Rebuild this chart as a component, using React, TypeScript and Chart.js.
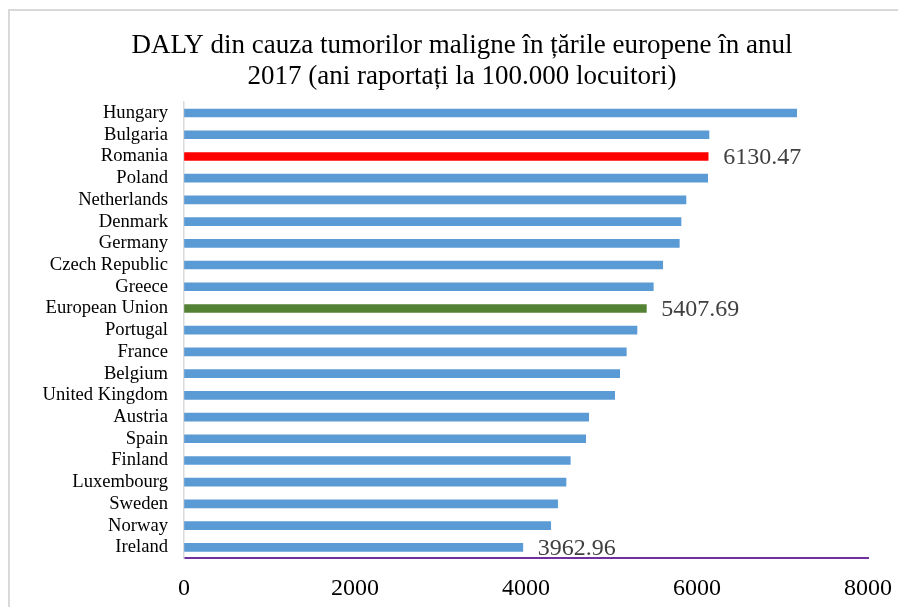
import React, { useEffect, useRef } from "react";
import { Chart, registerables } from "chart.js";

Chart.register(...registerables);

const titleLines = [
  "DALY din cauza tumorilor maligne în țările europene în anul",
  "2017 (ani raportați la 100.000 locuitori)",
];

const countries = [
  "Hungary",
  "Bulgaria",
  "Romania",
  "Poland",
  "Netherlands",
  "Denmark",
  "Germany",
  "Czech Republic",
  "Greece",
  "European Union",
  "Portugal",
  "France",
  "Belgium",
  "United Kingdom",
  "Austria",
  "Spain",
  "Finland",
  "Luxembourg",
  "Sweden",
  "Norway",
  "Ireland",
];

const dalyValues = [
  7166, 6140, 6130.47, 6125, 5871, 5813, 5793, 5599, 5489, 5407.69, 5298,
  5173, 5096, 5037, 4733, 4698, 4518, 4468, 4370, 4289, 3962.96,
];

const labelledCountries = ["Romania", "European Union", "Ireland"];

const xMin = 0;
const xMax = 8000;
const xStep = 2000;

const FONT = "'Liberation Serif', 'Times New Roman', serif";

function barColor(c: string): string {
  if (c === "Romania") return "#ff0000";
  if (c === "European Union") return "#548235";
  return "#5b9bd5";
}

const valueLabelPlugin = {
  id: "valueLabels",
  afterLayout(chart: any) {
    // centre the title block like the original figure
    if (chart.titleBlock) {
      chart.titleBlock.left += 48;
    }
  },
  beforeDraw(chart: any) {
    const meta = chart.getDatasetMeta(0);
    const ctx = chart.ctx;
    ctx.save();
    ctx.font = `24px ${FONT}`;
    ctx.fillStyle = "#404040";
    ctx.textAlign = "left";
    ctx.textBaseline = "middle";
    meta.data.forEach((bar: any, i: number) => {
      const name = countries[i];
      if (!labelledCountries.includes(name)) return;
      ctx.fillText(dalyValues[i].toFixed(2), bar.x + 15, bar.y + 1);
    });
    ctx.restore();
  },
};

export default function App() {
  const ref = useRef<HTMLCanvasElement | null>(null);

  useEffect(() => {
    document.body.style.overflow = "hidden";
    document.documentElement.style.overflow = "hidden";
    const canvas = ref.current;
    if (!canvas) return;
    const chart = new Chart(canvas, {
      type: "bar",
      data: {
        labels: countries,
        datasets: [
          {
            data: dalyValues,
            backgroundColor: countries.map(barColor),
            barThickness: 8,
            borderWidth: 0,
          },
        ],
      },
      plugins: [valueLabelPlugin],
      options: {
        indexAxis: "y",
        responsive: false,
        animation: false,
        maintainAspectRatio: false,
        layout: { padding: { left: 0, right: 30, top: 0, bottom: 0 } },
        plugins: {
          legend: { display: false },
          tooltip: { enabled: false },
          title: {
            display: true,
            text: titleLines,
            color: "#000000",
            font: { family: FONT, size: 27, weight: "normal", lineHeight: 1.17 },
            padding: { top: 22, bottom: 9 },
          },
        },
        scales: {
          x: {
            type: "linear",
            min: xMin,
            max: xMax,
            ticks: {
              stepSize: xStep,
              color: "#000000",
              font: { family: FONT, size: 24 },
              padding: 16,
              callback: (v: any) => String(v),
            },
            grid: {
              display: true,
              drawOnChartArea: false,
              drawTicks: false,
              color: "rgba(0,0,0,0)",
            },
            border: { display: true, color: "#7030a0", width: 2 },
            afterFit: (scale: any) => {
              scale.height = 48.8;
              scale.paddingLeft = 0;
              scale.paddingRight = 0;
            },
          },
          y: {
            type: "category",
            ticks: {
              color: "#000000",
              font: { family: FONT, size: 18.6 },
              padding: 16,
              autoSkip: false,
            },
            grid: {
              display: true,
              drawOnChartArea: false,
              drawTicks: false,
              color: "rgba(0,0,0,0)",
            },
            border: { display: true, color: "#d9d9d9", width: 1.5 },
            afterFit: (scale: any) => {
              scale.width = 176;
              scale.paddingTop = 0;
              scale.paddingBottom = 0;
            },
          },
        },
      },
    } as any);
    return () => chart.destroy();
  }, []);

  return (
    <div style={{ position: "relative", width: 890, height: 599 }}>
      <div
        style={{
          position: "absolute",
          left: 0,
          top: 1,
          width: 1000,
          height: 1000,
          borderTop: "2px solid #d9d9d9",
          borderLeft: "2px solid #d9d9d9",
          boxSizing: "border-box",
        }}
      />
      <canvas
        ref={ref}
        width={890}
        height={599}
        style={{ position: "absolute", left: 0, top: 0, width: 890, height: 599 }}
      />
    </div>
  );
}
